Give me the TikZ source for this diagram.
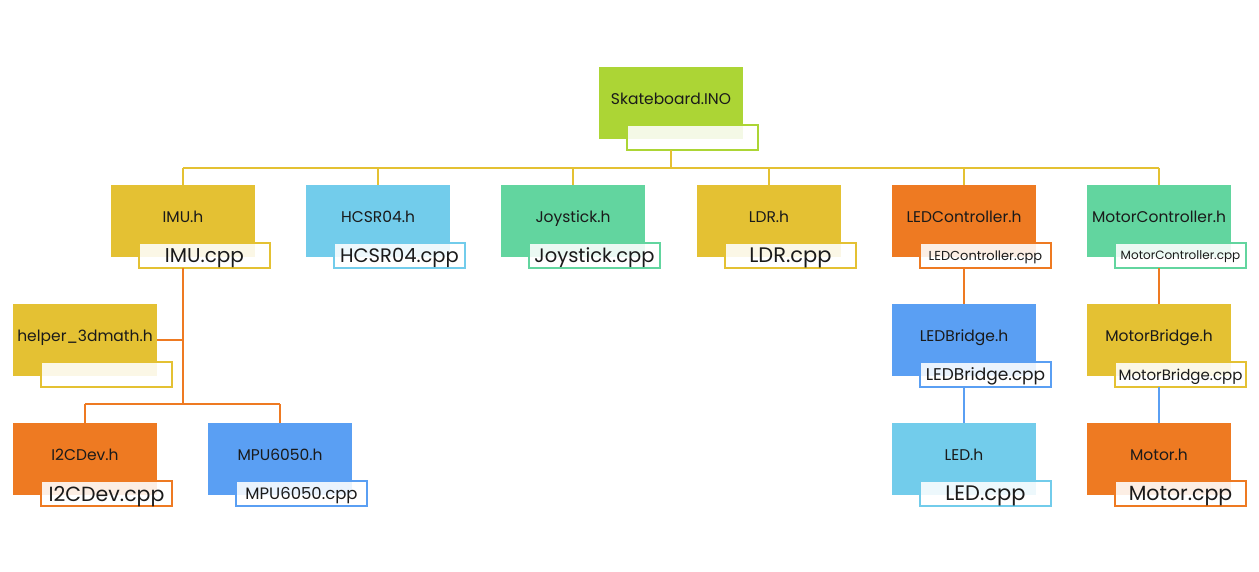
\documentclass[tikz,border=0pt]{standalone}
\usepackage{fontspec}
\setmainfont{Poppins}
\definecolor{ylw}{HTML}{E4C133}
\definecolor{lblu}{HTML}{72CCEB}
\definecolor{grn}{HTML}{62D59F}
\definecolor{org}{HTML}{EE7A22}
\definecolor{blu}{HTML}{5A9FF3}
\definecolor{lime}{HTML}{ACD535}
\definecolor{txt}{HTML}{1A1A1A}
\tikzset{
  mbox/.style={anchor=north west, minimum width=144pt, minimum height=72pt, inner sep=0pt, outer sep=0pt},
  mtext/.style={text=txt, font=\fontsize{15.5}{15.5}\selectfont, inner sep=0pt, text depth=0pt},
  lbl/.style={anchor=north west, minimum width=131pt, minimum height=25pt, inner sep=0pt, outer sep=0pt,
    fill=white, fill opacity=0.88, text opacity=1, line width=1.6pt, text=txt, text depth=0pt},
  con/.style={line width=1.8pt},
}
\newcommand\fbx[7]{%
  \node[mbox, fill=#4] (#1) at (#2,#3) {};
  \node[mtext] (#1-txt) at ([yshift=4pt]#1.center) {#5};
  \node[lbl, draw=#4, font=\fontsize{#7}{#7}\selectfont] (#1-lab) at ([shift={(28,-14)}]#1.south west) {#6};
}
\begin{document}
\begin{tikzpicture}[x=1pt,y=-1pt]
\useasboundingbox (0,0) rectangle (1259,572);
\fbx{sk}{599}{67}{lime}{Skateboard.INO}{}{12}
\fbx{imu}{111}{185}{ylw}{IMU.h}{IMU.cpp}{20}
\fbx{hc}{306}{185}{lblu}{HCSR04.h}{HCSR04.cpp}{19.5}
\fbx{joy}{501}{185}{grn}{Joystick.h}{Joystick.cpp}{19.5}
\fbx{ldr}{697}{185}{ylw}{LDR.h}{LDR.cpp}{21}
\fbx{ledc}{892}{185}{org}{LEDController.h}{LEDController.cpp}{13}
\fbx{motc}{1087}{185}{grn}{MotorController.h}{MotorController.cpp}{12}
\fbx{hlp}{13}{304}{ylw}{helper\_3dmath.h}{}{12}
\fbx{i2c}{13}{423}{org}{I2CDev.h}{I2CDev.cpp}{20.5}
\fbx{mpu}{208}{423}{blu}{MPU6050.h}{MPU6050.cpp}{16.5}
\fbx{ledb}{892}{304}{blu}{LEDBridge.h}{LEDBridge.cpp}{17}
\fbx{motb}{1087}{304}{ylw}{MotorBridge.h}{MotorBridge.cpp}{15}
\fbx{led}{892}{423}{lblu}{LED.h}{LED.cpp}{21}
\fbx{mot}{1087}{423}{org}{Motor.h}{Motor.cpp}{20.5}
% top bus
\draw[con, ylw] (sk.south |- sk-lab.south) -- ++(0,18) coordinate (bus);
\draw[con, ylw] (bus -| imu.north) -- (bus -| motc.north);
\draw[con, ylw] (bus -| imu.north) -- (imu.north);
\draw[con, ylw] (bus -| hc.north) -- (hc.north);
\draw[con, ylw] (bus -| joy.north) -- (joy.north);
\draw[con, ylw] (bus -| ldr.north) -- (ldr.north);
\draw[con, ylw] (bus -| ledc.north) -- (ledc.north);
\draw[con, ylw] (bus -| motc.north) -- (motc.north);
% IMU tree
\coordinate (ibus) at (0,404);
\draw[con, org] (imu.south |- imu-lab.south) -- (imu.south |- ibus);
\draw[con, org] (hlp.east) -- (hlp.east -| imu.south);
\draw[con, org] (ibus -| i2c.north) -- (ibus -| mpu.north);
\draw[con, org] (ibus -| i2c.north) -- (i2c.north);
\draw[con, org] (ibus -| mpu.north) -- (mpu.north);
% right trees
\draw[con, org] (ledc.south |- ledc-lab.south) -- (ledb.north);
\draw[con, org] (motc.south |- motc-lab.south) -- (motb.north);
\draw[con, blu] (ledb.south |- ledb-lab.south) -- (led.north);
\draw[con, blu] (motb.south |- motb-lab.south) -- (mot.north);
\end{tikzpicture}
\end{document}
